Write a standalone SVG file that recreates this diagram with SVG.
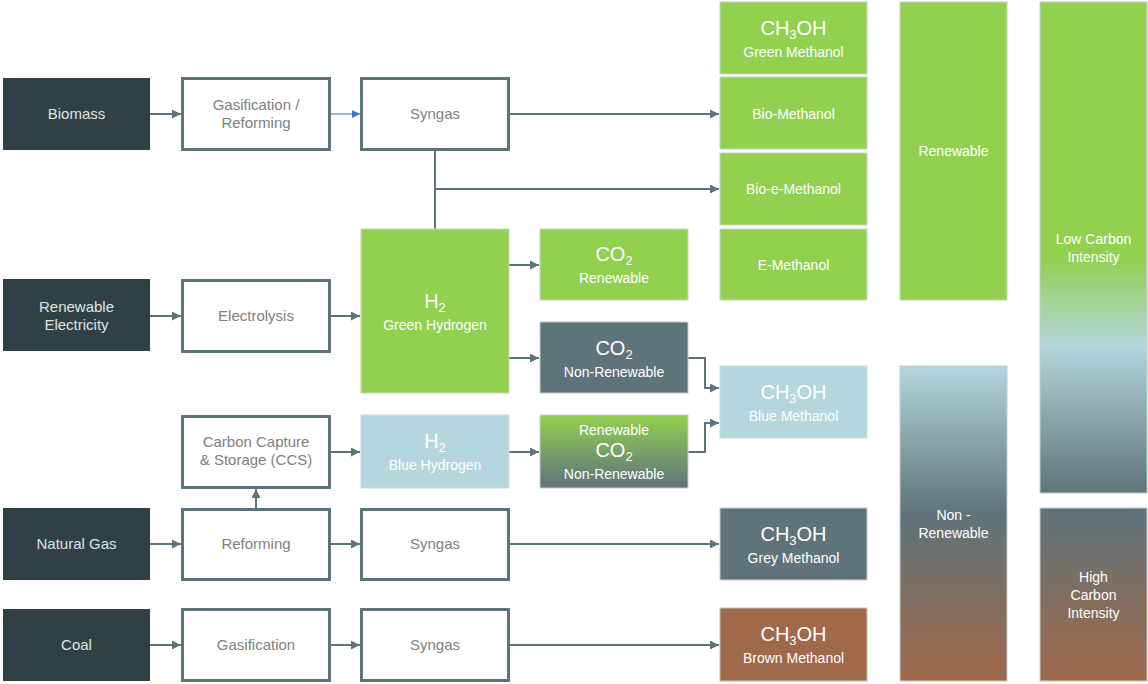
<svg xmlns="http://www.w3.org/2000/svg" width="1148" height="684" viewBox="0 0 1148 684">
<style>
text{font-family:"Liberation Sans",Arial,sans-serif;text-anchor:middle;}
.src{fill:#304146;}
.srct{fill:#dde3e4;font-size:15px;}
.proc{fill:#ffffff;stroke:#5f737a;stroke-width:3;}
.proct{fill:#808080;font-size:15px;}
.green{fill:#92d050;stroke:#c9d3c0;stroke-width:1;}
.blue{fill:#b4d6dc;stroke:#cfdde0;stroke-width:1;}
.grey{fill:#5f737a;stroke:#c7cdcf;stroke-width:1;}
.brown{fill:#a0694a;stroke:#c7c0bb;stroke-width:1;}
.wt{fill:#ffffff;font-size:14px;}
.big{fill:#ffffff;font-size:20px;}
.sub{font-size:13px;}
.conn{fill:none;stroke:#5f737a;stroke-width:2;}
</style>
<defs>
<marker id="ah" viewBox="0 0 10 10" refX="10" refY="5" markerWidth="4.5" markerHeight="4.5" orient="auto" markerUnits="strokeWidth">
<path d="M0,0 L10,5 L0,10 z" fill="#5f737a"/>
</marker>
<marker id="ahb" viewBox="0 0 10 10" refX="10" refY="5" markerWidth="8" markerHeight="8" orient="auto" markerUnits="strokeWidth">
<path d="M0,0 L10,5 L0,10 z" fill="#4472c4"/>
</marker>
<linearGradient id="gCO2" x1="0" y1="0" x2="0" y2="1">
<stop offset="0" stop-color="#92d050"/>
<stop offset="1" stop-color="#5f737a"/>
</linearGradient>
<linearGradient id="gNon" x1="0" y1="0" x2="0" y2="1">
<stop offset="0" stop-color="#b4d6dc"/>
<stop offset="0.47" stop-color="#5f737a"/>
<stop offset="1" stop-color="#a0694a"/>
</linearGradient>
<linearGradient id="gLow" x1="0" y1="0" x2="0" y2="1">
<stop offset="0" stop-color="#92d050"/>
<stop offset="0.52" stop-color="#92d050"/>
<stop offset="0.7" stop-color="#b4d6dc"/>
<stop offset="1" stop-color="#5f737a"/>
</linearGradient>
<linearGradient id="gHigh" x1="0" y1="0" x2="0" y2="1">
<stop offset="0" stop-color="#5f737a"/>
<stop offset="1" stop-color="#a0694a"/>
</linearGradient>
</defs>

<g id="connectors">
<line class="conn" x1="150" y1="114" x2="181" y2="114" marker-end="url(#ah)"/>
<line x1="330" y1="114" x2="360" y2="114" stroke="#4472c4" stroke-width="1" marker-end="url(#ahb)"/>
<line class="conn" x1="509" y1="114" x2="719" y2="114" marker-end="url(#ah)"/>
<line class="conn" x1="435" y1="150" x2="435" y2="229"/>
<line class="conn" x1="435" y1="189" x2="719" y2="189" marker-end="url(#ah)"/>
<line class="conn" x1="150" y1="316" x2="181" y2="316" marker-end="url(#ah)"/>
<line class="conn" x1="330" y1="316" x2="360" y2="316" marker-end="url(#ah)"/>
<line class="conn" x1="509" y1="265" x2="539" y2="265" marker-end="url(#ah)"/>
<line class="conn" x1="509" y1="358" x2="539" y2="358" marker-end="url(#ah)"/>
<polyline class="conn" points="688,358 705,358 705,388 719,388" marker-end="url(#ah)"/>
<polyline class="conn" points="688,452 705,452 705,423 719,423" marker-end="url(#ah)"/>
<line class="conn" x1="330" y1="452" x2="360" y2="452" marker-end="url(#ah)"/>
<line class="conn" x1="509" y1="452" x2="539" y2="452" marker-end="url(#ah)"/>
<line class="conn" x1="256" y1="508" x2="256" y2="489" marker-end="url(#ah)"/>
<line class="conn" x1="150" y1="544" x2="181" y2="544" marker-end="url(#ah)"/>
<line class="conn" x1="330" y1="544" x2="360" y2="544" marker-end="url(#ah)"/>
<line class="conn" x1="509" y1="544" x2="719" y2="544" marker-end="url(#ah)"/>
<line class="conn" x1="150" y1="645" x2="181" y2="645" marker-end="url(#ah)"/>
<line class="conn" x1="330" y1="645" x2="360" y2="645" marker-end="url(#ah)"/>
<line class="conn" x1="509" y1="645" x2="719" y2="645" marker-end="url(#ah)"/>
</g>

<g id="biomass"><rect class="src" x="3" y="78" width="147" height="72"/><text class="srct" x="76.5" y="119">Biomass</text></g>
<g id="renewable-electricity"><rect class="src" x="3" y="279" width="147" height="72"/><text class="srct" x="76.5" y="312">Renewable</text><text class="srct" x="76.5" y="330">Electricity</text></g>
<g id="natural-gas"><rect class="src" x="3" y="508" width="147" height="72"/><text class="srct" x="76.5" y="549">Natural Gas</text></g>
<g id="coal"><rect class="src" x="3" y="609" width="147" height="72"/><text class="srct" x="76.5" y="650">Coal</text></g>

<g id="gasification-reforming"><rect class="proc" x="182.5" y="78.5" width="147" height="71"/><text class="proct" x="256" y="110">Gasification /</text><text class="proct" x="256" y="128">Reforming</text></g>
<g id="electrolysis"><rect class="proc" x="182.5" y="280.5" width="147" height="71"/><text class="proct" x="256" y="321">Electrolysis</text></g>
<g id="ccs"><rect class="proc" x="182.5" y="416.5" width="147" height="71"/><text class="proct" x="256" y="447">Carbon Capture</text><text class="proct" x="256" y="465">&amp; Storage (CCS)</text></g>
<g id="reforming"><rect class="proc" x="182.5" y="509.5" width="147" height="70"/><text class="proct" x="256" y="549">Reforming</text></g>
<g id="gasification"><rect class="proc" x="182.5" y="609.5" width="147" height="71"/><text class="proct" x="256" y="650">Gasification</text></g>

<g id="syngas-1"><rect class="proc" x="361.5" y="78.5" width="147" height="71"/><text class="proct" x="435" y="119">Syngas</text></g>
<g id="syngas-2"><rect class="proc" x="361.5" y="509.5" width="147" height="70"/><text class="proct" x="435" y="549">Syngas</text></g>
<g id="syngas-3"><rect class="proc" x="361.5" y="609.5" width="147" height="71"/><text class="proct" x="435" y="650">Syngas</text></g>

<g id="green-hydrogen"><rect class="green" x="361" y="229" width="148" height="164"/><text class="big" x="435" y="308">H<tspan class="sub" dy="4">2</tspan></text><text class="wt" x="435" y="330">Green Hydrogen</text></g>
<g id="blue-hydrogen"><rect class="blue" x="361" y="415" width="148" height="73"/><text class="big" x="435" y="448">H<tspan class="sub" dy="4">2</tspan></text><text class="wt" x="435" y="470">Blue Hydrogen</text></g>

<g id="co2-renewable"><rect class="green" x="540" y="229" width="148" height="71"/><text class="big" x="614" y="261">CO<tspan class="sub" dy="4">2</tspan></text><text class="wt" x="614" y="283">Renewable</text></g>
<g id="co2-non-renewable"><rect class="grey" x="540" y="322" width="148" height="71"/><text class="big" x="614" y="355">CO<tspan class="sub" dy="4">2</tspan></text><text class="wt" x="614" y="377">Non-Renewable</text></g>
<g id="co2-mixed"><rect x="540" y="415" width="148" height="73" fill="url(#gCO2)" stroke="#c7cdcf" stroke-width="1"/><text class="wt" x="614" y="435">Renewable</text><text class="big" x="614" y="457">CO<tspan class="sub" dy="4">2</tspan></text><text class="wt" x="614" y="479">Non-Renewable</text></g>

<g id="green-methanol"><rect class="green" x="720" y="2" width="147" height="72"/><text class="big" x="793.5" y="35">CH<tspan class="sub" dy="4">3</tspan><tspan dy="-4">OH</tspan></text><text class="wt" x="793.5" y="57">Green Methanol</text></g>
<g id="bio-methanol"><rect class="green" x="720" y="77" width="147" height="72"/><text class="wt" x="793.5" y="119">Bio-Methanol</text></g>
<g id="bio-e-methanol"><rect class="green" x="720" y="153" width="147" height="72"/><text class="wt" x="793.5" y="194">Bio-e-Methanol</text></g>
<g id="e-methanol"><rect class="green" x="720" y="229" width="147" height="71"/><text class="wt" x="793.5" y="270">E-Methanol</text></g>
<g id="blue-methanol"><rect class="blue" x="720" y="366" width="147" height="72"/><text class="big" x="793.5" y="399">CH<tspan class="sub" dy="4">3</tspan><tspan dy="-4">OH</tspan></text><text class="wt" x="793.5" y="421">Blue Methanol</text></g>
<g id="grey-methanol"><rect class="grey" x="720" y="508" width="147" height="72"/><text class="big" x="793.5" y="541">CH<tspan class="sub" dy="4">3</tspan><tspan dy="-4">OH</tspan></text><text class="wt" x="793.5" y="563">Grey Methanol</text></g>
<g id="brown-methanol"><rect class="brown" x="720" y="608" width="147" height="73"/><text class="big" x="793.5" y="641">CH<tspan class="sub" dy="4">3</tspan><tspan dy="-4">OH</tspan></text><text class="wt" x="793.5" y="663">Brown Methanol</text></g>

<g id="renewable"><rect class="green" x="900" y="2" width="107" height="298"/><text class="wt" x="953.5" y="156">Renewable</text></g>
<g id="non-renewable"><rect x="900" y="366" width="107" height="315" fill="url(#gNon)" stroke="#c7cdcf" stroke-width="1"/><text class="wt" x="953.5" y="520">Non -</text><text class="wt" x="953.5" y="538">Renewable</text></g>
<g id="low-carbon"><rect x="1040" y="2" width="107" height="491" fill="url(#gLow)" stroke="#c7cdcf" stroke-width="1"/><text class="wt" x="1093.5" y="244">Low Carbon</text><text class="wt" x="1093.5" y="262">Intensity</text></g>
<g id="high-carbon"><rect x="1040" y="508" width="107" height="173" fill="url(#gHigh)" stroke="#c7cdcf" stroke-width="1"/><text class="wt" x="1093.5" y="582">High</text><text class="wt" x="1093.5" y="600">Carbon</text><text class="wt" x="1093.5" y="618">Intensity</text></g>
</svg>
